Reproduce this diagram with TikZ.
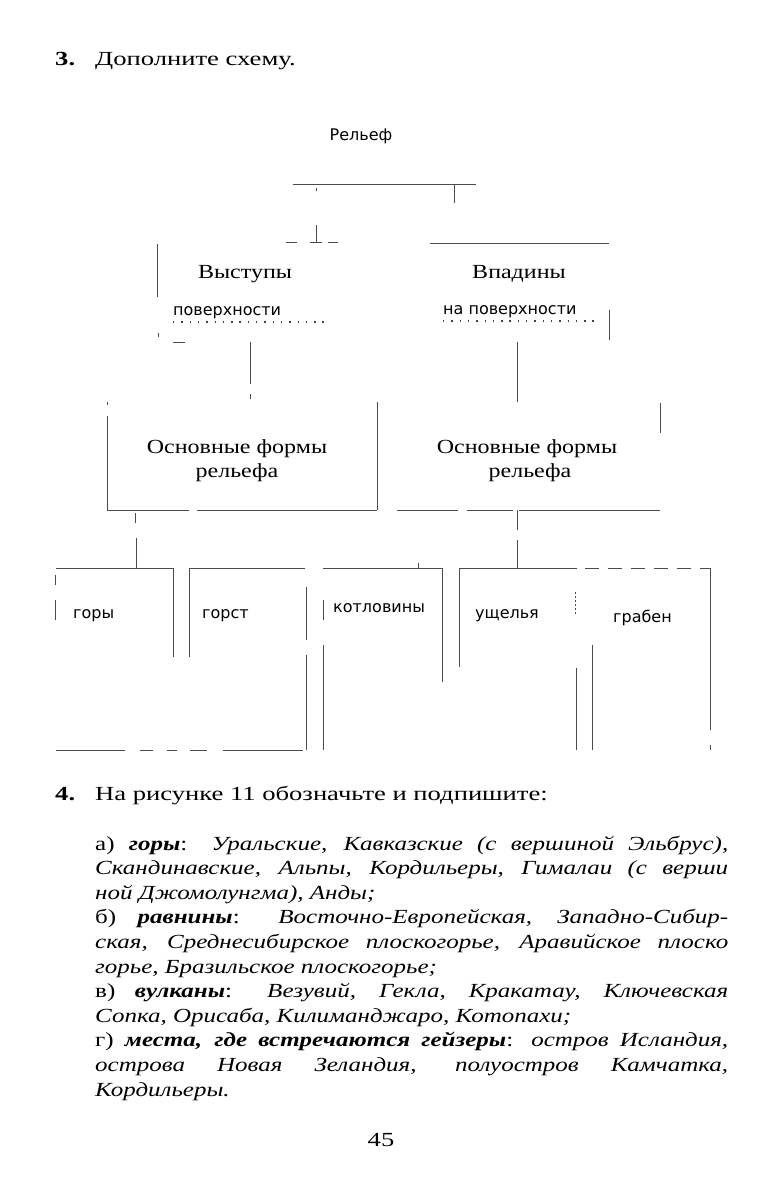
\documentclass[tikz,border=0pt]{standalone}
\usepackage{fontspec}
\setmainfont[FakeStretch=1.2]{Liberation Serif}
\newfontfamily\wideserif[FakeStretch=1.33]{Liberation Serif}
\newfontfamily\bodyserif[FakeStretch=1.25]{Liberation Serif}
\newfontfamily\lsans{DejaVu Sans}
\begin{document}
\begin{tikzpicture}[x=1pt,y=-1pt,
  ln/.style={draw=black!70, line width=0.8pt},
  dotln/.style={draw=black!75, line width=1.4pt, dash pattern=on 1.4pt off 6.9pt},
  srf/.style={inner sep=0pt, font=\wideserif\fontsize{20}{24}\selectfont},
  hd/.style={inner sep=0pt, font=\fontsize{20}{24}\selectfont, align=center},
  snl/.style={inner sep=0pt, font=\lsans\fontsize{16}{19}\selectfont},
  bodyl/.style={inner sep=0pt, anchor=base west, font=\bodyserif\fontsize{20}{24}\selectfont}]
\useasboundingbox[fill=white] (0,0) rectangle (767,1180);

% ---------- Task 3 ----------
\node[srf, anchor=base west] (t3) at (55,66) {\textbf{3.}};
\node[srf, anchor=base west] (title) at (95,66) {Дополните схему.};

\node[snl, anchor=base] (relief) at (361,141) {Рельеф};

% top bracket
\draw[ln] (293,184) -- (476,184);
\draw[ln] (454,184) -- (454,203);
\draw[ln] (316,188) -- (316,191);
\draw[ln] (316,225) -- (316,242);
\draw[ln] (286,242) -- (297,242);
\draw[ln] (310,242) -- (322,242);
\draw[ln] (328,242) -- (338,242);
\draw[ln] (430,243) -- (609,243);

% second level
\draw[ln] (157,244) -- (157,297);
\node[hd, anchor=base] (vyst) at (245,278) {Выступы};
\node[hd, anchor=base] (vpad) at (519,278) {Впадины};
\node[snl, anchor=base west] (pov1) at (173,315) {поверхности};
\node[snl, anchor=base west] (pov2) at (443,314) {на поверхности};
\draw[dotln] (173,322) -- (325,322);
\draw[dotln] (443,321) -- (597,321);
\draw[ln] (609,310) -- (609,340);
\draw[ln] (158,333) -- (158,337);
\draw[ln] (173,342) -- (185,342);

% connectors to third level
\draw[ln] (250,342) -- (250,384);
\draw[ln] (250,394) -- (250,399);
\draw[ln] (517,342) -- (517,402);

% left box "Основные формы рельефа"
\draw[ln] (107,402) -- (107,405);
\draw[ln] (107,416) -- (107,510);
\draw[ln] (377,402) -- (377,510);
\draw[ln] (107,510) -- (189,510);
\draw[ln] (197,510) -- (377,510);
\node[hd, anchor=base] (osn1) at (237,453) {Основные формы};
\node[hd, anchor=base] (osn1b) at (237,477) {рельефа};

% right box
\draw[ln] (660,403) -- (660,433);
\draw[ln] (397,510) -- (458,510);
\draw[ln] (467,510) -- (513,510);
\draw[ln] (519,510) -- (660,510);
\node[hd, anchor=base] (osn2) at (527,453) {Основные формы};
\node[hd, anchor=base] (osn2b) at (530,477) {рельефа};

% connectors to fourth level
\draw[ln] (135,513) -- (135,523);
\draw[ln] (136,538) -- (136,568);
\draw[ln] (517,510) -- (517,530);
\draw[ln] (517,540) -- (517,568);

% fourth level top line
\draw[ln] (56,568) -- (173,568);
\draw[ln] (189,568) -- (305,568);
\draw[ln] (323,568) -- (442,568);
\draw[ln] (459,568) -- (577,568);
\draw[ln, dash pattern=on 14pt off 9pt] (585,568) -- (710,568);
\draw[ln] (418,563) -- (418,568);

% box 1 (горы)
\draw[ln] (55,575) -- (55,585);
\draw[ln] (55,600) -- (55,620);
\draw[ln] (173,568) -- (173,657);
\node[snl, anchor=base west] (gory) at (73,618) {горы};

% box 2 (горст)
\draw[ln] (189,568) -- (189,657);
\draw[ln] (306,587) -- (306,640);
\draw[ln] (306,655) -- (306,750);
\node[snl, anchor=base west] (gorst) at (202,618) {горст};

% bottom line of boxes 1-2
\draw[ln] (56,750) -- (125,750);
\draw[ln] (140,750) -- (153,750);
\draw[ln] (167,750) -- (177,750);
\draw[ln] (190,750) -- (207,750);
\draw[ln] (223,750) -- (303,750);

% box 3 (котловины)
\draw[ln] (323,600) -- (323,620);
\draw[ln] (323,645) -- (323,750);
\draw[ln] (442,568) -- (442,682);
\node[snl, anchor=base west] (kotl) at (333,612) {котловины};

% box 4 (ущелья)
\draw[ln] (459,568) -- (459,667);
\node[snl, anchor=base west] (ushch) at (475,618) {ущелья};
\draw[ln, dash pattern=on 2pt off 2pt] (575,592) -- (575,615);

% box 5 (грабен)
\draw[ln] (576,668) -- (576,750);
\draw[ln] (592,645) -- (592,750);
\draw[ln] (710,568) -- (710,730);
\draw[ln] (710,745) -- (710,750);
\node[snl, anchor=base west] (graben) at (613,622) {грабен};

% ---------- Task 4 ----------
\node[srf, anchor=base west] (t4) at (55,800) {\textbf{4.}};
\node[srf, anchor=base west] (task) at (95,800) {На рисунке 11 обозначьте и подпишите:};

\node[bodyl] (l1) at (95,850) {\makebox[633pt][s]{а) \textbf{\textit{горы}}: \textit{Уральские, Кавказские (с вершиной Эльбрус),}}};
\node[bodyl] (l2) at (95,874.6) {\makebox[633pt][s]{\textit{Скандинавские, Альпы, Кордильеры, Гималаи (с верши}}};
\node[bodyl] (l3) at (95,899.2) {\textit{ной Джомолунгма), Анды;}};
\node[bodyl] (l4) at (95,923.8) {\makebox[633pt][s]{б) \textbf{\textit{равнины}}: \textit{Восточно-Европейская, Западно-Сибир-}}};
\node[bodyl] (l5) at (95,948.4) {\makebox[633pt][s]{\textit{ская, Среднесибирское плоскогорье, Аравийское плоско}}};
\node[bodyl] (l6) at (95,973) {\textit{горье, Бразильское плоскогорье;}};
\node[bodyl] (l7) at (95,997.6) {\makebox[633pt][s]{в) \textbf{\textit{вулканы}}: \textit{Везувий, Гекла, Кракатау, Ключевская}}};
\node[bodyl] (l8) at (95,1022.2) {\textit{Сопка, Орисаба, Килиманджаро, Котопахи;}};
\node[bodyl] (l9) at (95,1046.8) {\makebox[633pt][s]{г) \textbf{\textit{места, где встречаются гейзеры}}: \textit{остров Исландия,}}};
\node[bodyl] (l10) at (95,1071.4) {\makebox[633pt][s]{\textit{острова Новая Зеландия, полуостров Камчатка,}}};
\node[bodyl] (l11) at (95,1096) {\textit{Кордильеры.}};

\node[srf, anchor=base] (page) at (381,1146) {45};
\end{tikzpicture}
\end{document}
